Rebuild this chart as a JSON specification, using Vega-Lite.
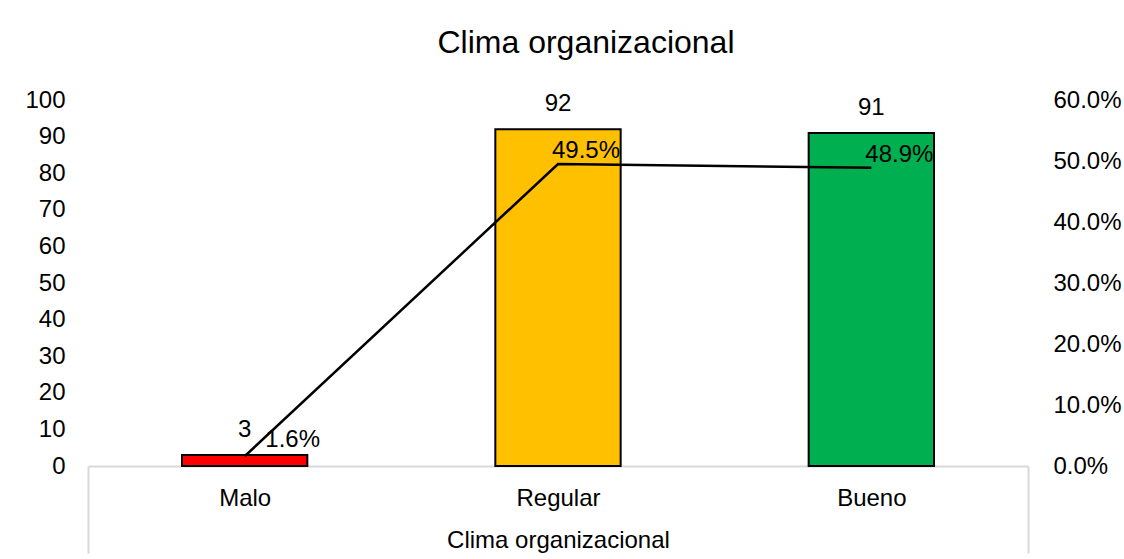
{
  "$schema": "https://vega.github.io/schema/vega-lite/v6.json",
  "autosize": {"type": "none"},
  "width": 940,
  "height": 366,
  "padding": {"left": 88, "top": 100, "right": 96, "bottom": 93},
  "background": "white",
  "title": {
    "text": "Clima organizacional",
    "font": "Liberation Sans",
    "fontSize": 32,
    "fontWeight": "normal",
    "color": "#000000",
    "anchor": "middle",
    "dx": 28,
    "offset": 28
  },
  "config": {
    "view": {"stroke": null},
    "font": "Liberation Sans",
    "axis": {
      "labelFont": "Liberation Sans",
      "labelFontSize": 24,
      "labelColor": "#000000",
      "titleFont": "Liberation Sans",
      "titleFontSize": 24,
      "titleFontWeight": "normal",
      "titleColor": "#000000",
      "grid": false
    }
  },
  "data": {
    "values": [
      {"nivel": "Malo", "n": 3, "pct": 0.016},
      {"nivel": "Regular", "n": 92, "pct": 0.495},
      {"nivel": "Bueno", "n": 91, "pct": 0.489}
    ]
  },
  "encoding": {
    "x": {
      "field": "nivel",
      "type": "nominal",
      "sort": ["Malo", "Regular", "Bueno"],
      "scale": {"paddingInner": 0, "paddingOuter": 0},
      "axis": {
        "title": "Clima organizacional",
        "labelAngle": 0,
        "domainColor": "#D9D9D9",
        "domainWidth": 2,
        "tickBand": "extent",
        "tickColor": "#D9D9D9",
        "tickWidth": 2,
        "tickSize": 87,
        "tickOpacity": {"condition": {"test": "datum.value === 'Bueno' || datum.value == null", "value": 1}, "value": 0},
        "labelPadding": -67,
        "titleY": 62,
        "titleBaseline": "top"
      }
    }
  },
  "layer": [
    {
      "encoding": {
        "y": {
          "field": "n",
          "type": "quantitative",
          "scale": {"domain": [0, 100], "nice": false},
          "axis": {
            "title": null,
            "values": [0, 10, 20, 30, 40, 50, 60, 70, 80, 90, 100],
            "domain": false,
            "ticks": false,
            "tickSize": 0,
            "labelPadding": 23
          }
        }
      },
      "layer": [
        {
          "mark": {"type": "bar", "width": {"band": 0.4}, "stroke": "#000000", "strokeWidth": 2},
          "encoding": {
            "color": {
              "field": "nivel",
              "type": "nominal",
              "scale": {"domain": ["Malo", "Regular", "Bueno"], "range": ["#FF0000", "#FFC000", "#00B050"]},
              "legend": null
            }
          }
        },
        {
          "mark": {"type": "text", "baseline": "middle", "align": "center", "dy": -25, "fontSize": 24, "color": "#000000"},
          "encoding": {"text": {"field": "n", "type": "quantitative"}}
        }
      ]
    },
    {
      "encoding": {
        "y": {
          "field": "pct",
          "type": "quantitative",
          "scale": {"domain": [0, 0.6], "nice": false},
          "axis": {
            "title": null,
            "orient": "right",
            "format": ".1%",
            "values": [0, 0.1, 0.2, 0.3, 0.4, 0.5, 0.6],
            "domain": false,
            "ticks": false,
            "tickSize": 0,
            "labelPadding": 25
          }
        }
      },
      "layer": [
        {
          "mark": {"type": "line", "color": "#000000", "strokeWidth": 2.5},
          "encoding": {}
        },
        {
          "transform": [{"filter": "datum.nivel !== 'Malo'"}],
          "mark": {"type": "text", "baseline": "middle", "align": "center", "dx": 28, "dy": -13, "fontSize": 24, "color": "#000000"},
          "encoding": {"text": {"field": "pct", "type": "quantitative", "format": ".1%"}}
        },
        {
          "transform": [{"filter": "datum.nivel === 'Malo'"}],
          "mark": {"type": "text", "baseline": "middle", "align": "center", "dx": 48, "dy": -16, "fontSize": 24, "color": "#000000"},
          "encoding": {"text": {"field": "pct", "type": "quantitative", "format": ".1%"}}
        }
      ]
    }
  ],
  "resolve": {"scale": {"y": "independent"}}
}
